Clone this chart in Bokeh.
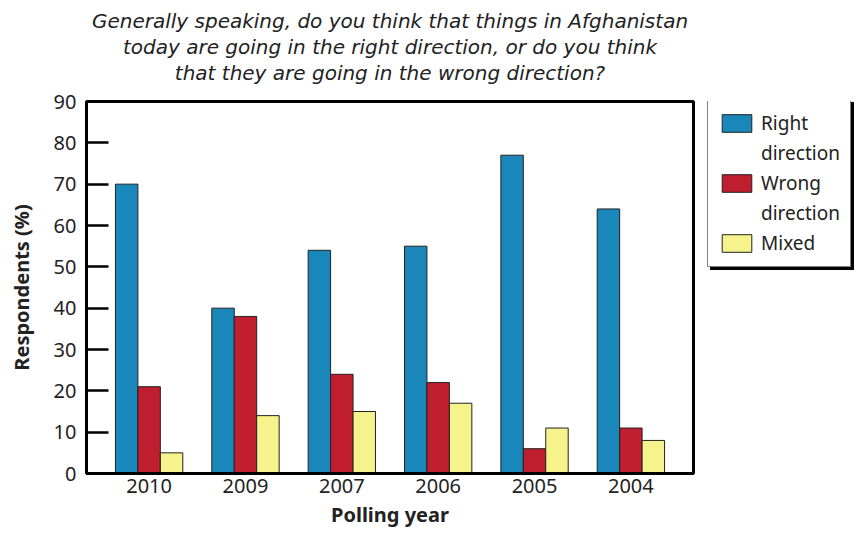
from bokeh.plotting import figure
from bokeh.layouts import row, column
from bokeh.core.properties import value
from bokeh.models import (FactorRange, Range1d, Legend, LegendItem, SingleIntervalTicker,
                          ColumnDataSource)
from bokeh.transform import dodge
from bokeh.embed import file_html
from bokeh.resources import INLINE

years = ["2010", "2009", "2007", "2006", "2005", "2004"]
right_dir = [70, 40, 54, 55, 77, 64]
wrong_dir = [21, 38, 24, 22, 6, 11]
mixed = [5, 14, 15, 17, 11, 8]
series_names = ["Right direction", "Wrong direction", "Mixed"]
colors = ["#1a87bb", "#be1e2d", "#f7f38c"]
title_lines = ["Generally speaking, do you think that things in Afghanistan",
               "today are going in the right direction, or do you think",
               "that they are going in the wrong direction?"]

FONT = "Noto Sans"
TFONT = "DejaVu Sans"
TXT = "#222222"
TITLE_H = 88
MAIN_H = 450
TOP = 13
FRAME_H = 372
BOTTOM = MAIN_H - TOP - FRAME_H
MAIN_W = 696
LEFT = 86

# ---- title strip
pt = figure(width=MAIN_W, height=TITLE_H, x_range=Range1d(0, 1), y_range=Range1d(TITLE_H, 0),
            output_backend="svg", toolbar_location=None,
            min_border_left=LEFT, min_border_right=3, min_border_top=0, min_border_bottom=0)
pt.axis.visible = False
pt.grid.visible = False
pt.outline_line_color = None
pt.text(x=[0.5] * 3, y=[20, 46, 72], text=title_lines, text_align="center",
        text_baseline="middle", text_font=value(TFONT), text_font_style="italic",
        text_font_size="20px", text_color=TXT)

# ---- main chart
src = ColumnDataSource(dict(year=years, right=right_dir, wrong=wrong_dir, mixed=mixed))

p = figure(width=MAIN_W, height=MAIN_H,
           x_range=FactorRange(*years, range_padding=0.05),
           y_range=Range1d(0, 90),
           output_backend="svg", toolbar_location=None,
           min_border_left=LEFT, min_border_right=3,
           min_border_bottom=BOTTOM, min_border_top=TOP)

w = 0.233
for col, off, c in zip(["right", "wrong", "mixed"], [-w, 0, w], colors):
    p.vbar(x=dodge("year", off, range=p.x_range), top=col, width=w, bottom=0,
           source=src, fill_color=c, line_color="#222222", line_width=1)

p.xgrid.visible = False
p.ygrid.visible = False
p.outline_line_color = "black"
p.outline_line_width = 3

ya = p.yaxis[0]
ya.ticker = SingleIntervalTicker(interval=10)
ya.major_tick_in = 22
ya.major_tick_out = 0
ya.minor_tick_line_color = None
ya.major_tick_line_width = 2.5
ya.axis_line_width = 3
ya.major_label_text_font = FONT
ya.major_label_text_font_size = "20px"
ya.major_label_text_color = TXT
ya.major_label_standoff = 6
ya.axis_label = "Respondents (%)"
ya.axis_label_text_font = FONT
ya.axis_label_text_font_style = "bold"
ya.axis_label_text_font_size = "20px"
ya.axis_label_text_color = TXT
ya.axis_label_standoff = 16

xa = p.xaxis[0]
xa.major_tick_in = 0
xa.major_tick_out = 0
xa.minor_tick_line_color = None
xa.axis_line_width = 3
xa.major_label_text_font = FONT
xa.major_label_text_font_size = "20px"
xa.major_label_text_color = TXT
xa.major_label_standoff = 5
xa.axis_label = "Polling year"
xa.axis_label_text_font = FONT
xa.axis_label_text_font_style = "bold"
xa.axis_label_text_font_size = "20px"
xa.axis_label_text_color = TXT
xa.axis_label_standoff = 5

# ---- legend panel
p2 = figure(width=159, height=MAIN_H, x_range=Range1d(0, 1), y_range=Range1d(0, 1),
            output_backend="svg", toolbar_location=None,
            min_border_left=0, min_border_right=0,
            min_border_top=TOP, min_border_bottom=BOTTOM)
p2.axis.visible = False
p2.grid.visible = False
p2.outline_line_color = None

dummy = ColumnDataSource(dict(x=[-10], y=[-10]))


def dummy_rect(fill, line, alpha=1.0):
    return p2.rect(x="x", y="y", width=0.1, height=0.1, source=dummy, fill_color=fill,
                   line_color=line, line_width=1, fill_alpha=alpha, line_alpha=alpha)


# split each two-word series name over two legend rows; the glyph sits on the first row
leg_labels, leg_rs, shadow_rs = [], [], []
for name, c in zip(series_names, colors):
    parts = name.split(" ")
    for j, part in enumerate(parts):
        leg_labels.append(part)
        if j == 0:
            leg_rs.append(dummy_rect(c, "#222222"))
            shadow_rs.append(dummy_rect("black", "black"))
        else:
            leg_rs.append(dummy_rect("white", "white", 0))
            shadow_rs.append(dummy_rect("black", "black", 0))

LEG_H = 166


def make_legend(rs, loc, shadow=False):
    lg = Legend(items=[LegendItem(label=l, renderers=[r]) for l, r in zip(leg_labels, rs)],
                location=loc)
    lg.label_text_font = FONT
    lg.label_text_font_size = "19px"
    lg.label_text_color = "black" if shadow else TXT
    lg.label_text_line_height = 1.0
    lg.label_height = 22
    lg.glyph_width = 37
    lg.glyph_height = 22
    lg.spacing = 4
    lg.padding = 10
    lg.margin = 0
    lg.label_standoff = 6
    lg.border_line_color = "black"
    lg.border_line_width = 1.5
    lg.background_fill_color = "black" if shadow else "white"
    lg.background_fill_alpha = 1
    return lg


p2.add_layout(make_legend(shadow_rs, (14, FRAME_H - LEG_H - 3), shadow=True), "center")
p2.add_layout(make_legend(leg_rs, (11, FRAME_H - LEG_H)), "center")

layout = column(pt, row(p, p2))
open("out.html", "w").write(file_html(layout, INLINE))
